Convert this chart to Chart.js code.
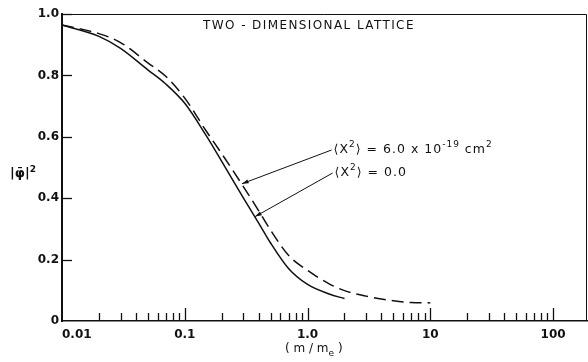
<!DOCTYPE html>
<html>
<head>
<meta charset="utf-8">
<script src="https://cdn.jsdelivr.net/npm/chart.js@4.4.1/dist/chart.umd.min.js"></script>
<style>
  html, body { margin: 0; padding: 0; background: #fff; }
</style>
</head>
<body>
<canvas id="grafico" width="588" height="362"></canvas>
<script>
// m/m_e valores
const masaSolida = [0.01, 0.02, 0.03, 0.05, 0.07, 0.1, 0.15, 0.2, 0.3, 0.4, 0.5, 0.7, 1.0, 1.5, 2.0];
const phiSolida = [0.964, 0.927, 0.888, 0.818, 0.772, 0.709, 0.603, 0.520, 0.401, 0.319, 0.254, 0.171, 0.119, 0.088, 0.073];
const masaDiscontinua = [0.01, 0.02, 0.03, 0.05, 0.07, 0.1, 0.15, 0.2, 0.3, 0.4, 0.5, 0.7, 1.0, 1.5, 2.0, 3.0, 5.0, 7.0, 10];
const phiDiscontinua = [0.964, 0.936, 0.907, 0.841, 0.797, 0.726, 0.618, 0.545, 0.438, 0.359, 0.296, 0.214, 0.165, 0.121, 0.099, 0.081, 0.066, 0.060, 0.059];

const xTicks = [0.01, 0.1, 1, 10, 100];
const xTickLabels = ['0.01', '0.1', '1.0', '10', '100'];
const yTicks = [0, 0.2, 0.4, 0.6, 0.8, 1.0];
const yTickLabels = ['0', '0.2', '0.4', '0.6', '0.8', '1.0'];

const titulo = 'TWO - DIMENSIONAL LATTICE';

// flechas: desde el texto hasta la curva (coordenadas de datos)
const anotaciones = [
  { desde: [1.57, 0.557], hacia: [0.292, 0.447],
    partes: [['\u27E8X', 0], ['2', 1], ['\u27E9 = 6.0 x 10', 0], ['-19', 1], [' cm', 0], ['2', 1]] },
  { desde: [1.6, 0.482], hacia: [0.374, 0.340],
    partes: [['\u27E8X', 0], ['2', 1], ['\u27E9 = 0.0', 0]] }
];

const FUENTE = '"DejaVu Sans", sans-serif';

function aPuntos(xs, ys) {
  return xs.map((x, i) => ({ x, y: ys[i] }));
}

// dibuja texto con trozos en superindice (1) o subindice (-1)
function textoPartes(ctx, x, y, partes, tam, peso, espacio) {
  let cx = x;
  ctx.letterSpacing = (espacio || 0) + 'px';
  partes.forEach(([t, tipo]) => {
    const t2 = tipo === 0 ? tam : Math.round(tam * 0.72);
    ctx.font = `${peso} ${t2}px ${FUENTE}`;
    const dy = tipo === 1 ? -tam * 0.42 : (tipo === -1 ? tam * 0.3 : 0);
    ctx.fillText(t, cx, y + dy);
    cx += ctx.measureText(t).width;
  });
  ctx.letterSpacing = '0px';
}

const decoraciones = {
  id: 'decoraciones',
  afterDraw(chart) {
    const { ctx, chartArea: a, scales: { x, y } } = chart;
    ctx.save();
    ctx.strokeStyle = '#111';
    ctx.fillStyle = '#111';

    // marco superior y derecho
    ctx.lineWidth = 1;
    ctx.beginPath();
    ctx.moveTo(a.left, a.top + 0.5);
    ctx.lineTo(a.right - 0.5, a.top + 0.5);
    ctx.lineTo(a.right - 0.5, a.bottom);
    ctx.stroke();

    // marcas del eje x hacia dentro
    ctx.lineWidth = 1.3;
    for (let d = -2; d <= 2; d++) {
      for (let k = 1; k <= 9; k++) {
        const v = k * Math.pow(10, d);
        if (v <= x.min || v > x.max) continue;
        const px = Math.round(x.getPixelForValue(v)) + 0.5;
        const largo = k === 1 ? 13 : 8;
        ctx.beginPath();
        ctx.moveTo(px, a.bottom);
        ctx.lineTo(px, a.bottom - largo);
        ctx.stroke();
      }
    }
    // marcas del eje y hacia dentro
    yTicks.forEach(v => {
      if (v === 0) return;
      const py = Math.round(y.getPixelForValue(v)) + 0.5;
      ctx.beginPath();
      ctx.moveTo(a.left, py);
      ctx.lineTo(a.left + 10, py);
      ctx.stroke();
    });

    // etiquetas del eje x
    ctx.font = `bold 12px ${FUENTE}`;
    ctx.textBaseline = 'middle';
    xTicks.forEach((v, i) => {
      const px = x.getPixelForValue(v);
      ctx.textAlign = i === 0 ? 'left' : 'center';
      ctx.fillText(xTickLabels[i], px, a.bottom + 14);
    });

    // titulo del eje x: ( m / m_e )
    ctx.textAlign = 'left';
    ctx.textBaseline = 'alphabetic';
    textoPartes(ctx, 285, 352, [['( m / m', 0], ['e', -1], [' )', 0]], 12, 'normal');

    // titulo del eje y: |phi|^2
    textoPartes(ctx, 10, 177, [['|\u03C6\u0304|', 0], ['2', 1]], 13, 'bold');

    // titulo
    ctx.font = `12px ${FUENTE}`;
    ctx.letterSpacing = '1.4px';
    ctx.textAlign = 'center';
    ctx.textBaseline = 'middle';
    ctx.fillText(titulo, 309, 26);
    ctx.letterSpacing = '0px';

    // anotaciones con flecha
    ctx.textAlign = 'left';
    ctx.textBaseline = 'middle';
    anotaciones.forEach(an => {
      const x0 = x.getPixelForValue(an.desde[0]);
      const y0 = y.getPixelForValue(an.desde[1]);
      const x1 = x.getPixelForValue(an.hacia[0]);
      const y1 = y.getPixelForValue(an.hacia[1]);
      ctx.lineWidth = 1;
      ctx.beginPath();
      ctx.moveTo(x0, y0);
      ctx.lineTo(x1, y1);
      ctx.stroke();
      const ang = Math.atan2(y1 - y0, x1 - x0);
      ctx.beginPath();
      ctx.moveTo(x1, y1);
      ctx.lineTo(x1 - 7 * Math.cos(ang - 0.3), y1 - 7 * Math.sin(ang - 0.3));
      ctx.lineTo(x1 - 7 * Math.cos(ang + 0.3), y1 - 7 * Math.sin(ang + 0.3));
      ctx.closePath();
      ctx.fill();
      textoPartes(ctx, x0 + 2, y0, an.partes, 12.5, 'normal', 1);
    });

    ctx.restore();
  }
};

const ctx = document.getElementById('grafico').getContext('2d');
new Chart(ctx, {
  type: 'line',
  data: {
    datasets: [
      {
        label: '<X2> = 6.0 x 10-19 cm2',
        data: aPuntos(masaDiscontinua, phiDiscontinua),
        borderColor: '#111',
        borderWidth: 1.5,
        borderDash: [12, 6],
        pointRadius: 0,
        cubicInterpolationMode: 'monotone',
        fill: false
      },
      {
        label: '<X2> = 0.0',
        data: aPuntos(masaSolida, phiSolida),
        borderColor: '#111',
        borderWidth: 1.5,
        pointRadius: 0,
        cubicInterpolationMode: 'monotone',
        fill: false
      }
    ]
  },
  options: {
    responsive: false,
    animation: false,
    devicePixelRatio: 1,
    layout: { padding: { left: 0, top: 14, right: 1, bottom: 0 } },
    plugins: {
      legend: { display: false },
      tooltip: { enabled: false }
    },
    scales: {
      x: {
        type: 'logarithmic',
        min: 0.01,
        max: 189,
        afterBuildTicks: s => { s.ticks = xTicks.map(v => ({ value: v })); },
        afterFit: s => { s.height = 41; },
        ticks: { display: false },
        grid: { display: false, drawTicks: false },
        border: { color: '#111', width: 1.5 }
      },
      y: {
        min: 0,
        max: 1,
        afterBuildTicks: s => { s.ticks = yTicks.map(v => ({ value: v })); },
        afterFit: s => { s.width = 62; },
        ticks: {
          callback: (v, i) => yTickLabels[i],
          color: '#111',
          padding: 3,
          font: { family: 'DejaVu Sans', size: 12, weight: 'bold' }
        },
        grid: { display: false, drawTicks: false },
        border: { color: '#111', width: 2 }
      }
    }
  },
  plugins: [decoraciones]
});
</script>
</body>
</html>
